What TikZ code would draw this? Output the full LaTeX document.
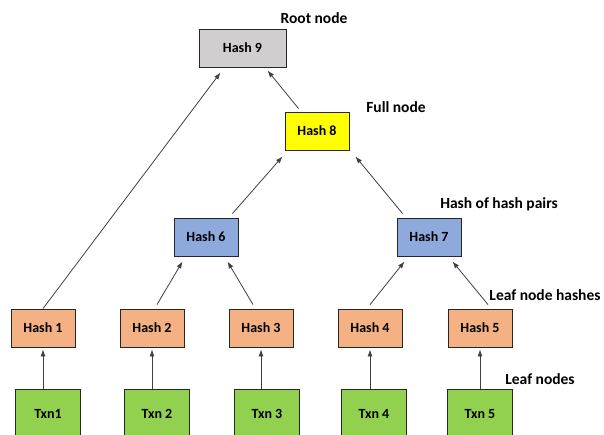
\documentclass[tikz,border=0pt]{standalone}
\usepackage{fontspec}
\setmainfont{Carlito}
\usepackage{tikz}
\usetikzlibrary{arrows.meta, calc}

\definecolor{rootgray}{HTML}{D0CECE}
\definecolor{fullyellow}{HTML}{FFFF00}
\definecolor{pairblue}{HTML}{8EA9DB}
\definecolor{leafpeach}{HTML}{F4B183}
\definecolor{txngreen}{HTML}{92D050}

\tikzset{
  hashbox/.style={draw=black!85, line width=0.9pt, minimum width=64pt, minimum height=38pt,
    inner sep=0pt, font=\fontsize{14}{16}\selectfont\bfseries},
  txnbox/.style={hashbox, fill=txngreen, minimum width=65pt, minimum height=50pt},
  tag/.style={font=\fontsize{15.5}{18}\selectfont\bfseries, inner sep=0pt},
  arr/.style={-{Latex[length=7pt,width=5pt]}, line width=0.8pt, draw=black!75}
}

\begin{document}
\begin{tikzpicture}[x=1pt, y=-1pt]
\clip (0,0) rectangle (604,434);
\fill[white] (0,0) rectangle (604,434);

% Root and full node
\node[hashbox, fill=rootgray, minimum width=87pt] (h9) at (242.5,48) {Hash 9};
\node[hashbox, fill=fullyellow] (h8) at (317,131) {Hash 8};

% Hash of hash pairs
\node[hashbox, fill=pairblue] (h6) at (206,237) {Hash 6};
\node[hashbox, fill=pairblue] (h7) at (429,237) {Hash 7};

% Leaf node hashes
\node[hashbox, fill=leafpeach] (h1) at (43,328) {Hash 1};
\node[hashbox, fill=leafpeach] (h2) at (152,328) {Hash 2};
\node[hashbox, fill=leafpeach] (h3) at (261,328) {Hash 3};
\node[hashbox, fill=leafpeach] (h4) at (370,328) {Hash 4};
\node[hashbox, fill=leafpeach] (h5) at (480,328) {Hash 5};

% Leaf nodes
\node[txnbox] (t1) at (48,414) {Txn1};
\node[txnbox] (t2) at (157,414) {Txn 2};
\node[txnbox] (t3) at (267,414) {Txn 3};
\node[txnbox] (t4) at (374,414) {Txn 4};
\node[txnbox] (t5) at (480,414) {Txn 5};

% Labels
\node[tag] (lroot) at (314,18) {Root node};
\node[tag] (lfull) at (396,107) {Full node};
\node[tag] (lpair) at (499,204) {Hash of hash pairs};
\node[tag] (lleafh) at (545,295) {Leaf node hashes};
\node[tag] (lleaf) at (540,379) {Leaf nodes};

% Txn -> leaf hash
\foreach \i in {1,...,5}
  \draw[arr] (h\i |- t\i.north) -- ($(h\i.south)+(0,2)$);

% Leaf hash -> pair hash
\draw[arr] ($(h2.north)+(5,-4)$) -- ($(h6.south west)+(9,5)$);
\draw[arr] ($(h3.north)+(-8,-4)$) -- ($(h6.south east)+(-11,5)$);
\draw[arr] ($(h4.north)+(0,-4)$) -- ($(h7.south west)+(8,5)$);
\draw[arr] ($(h5.north)+(8,-4)$) -- ($(h7.south east)+(-9,5)$);

% Pair hash -> full node
\draw[arr] ($(h6.north east)+(-6,-4)$) -- ($(h8.south west)+(-2,6)$);
\draw[arr] ($(h7.north west)+(6,-4)$) -- ($(h8.south east)+(6,6)$);

% Up to the root
\draw[arr] (h1.north) -- ($(h9.south west)+(22,5)$);
\draw[arr] ($(h8.north west)+(14,-3)$) -- ($(h9.south east)+(-19,3)$);
\end{tikzpicture}
\end{document}
